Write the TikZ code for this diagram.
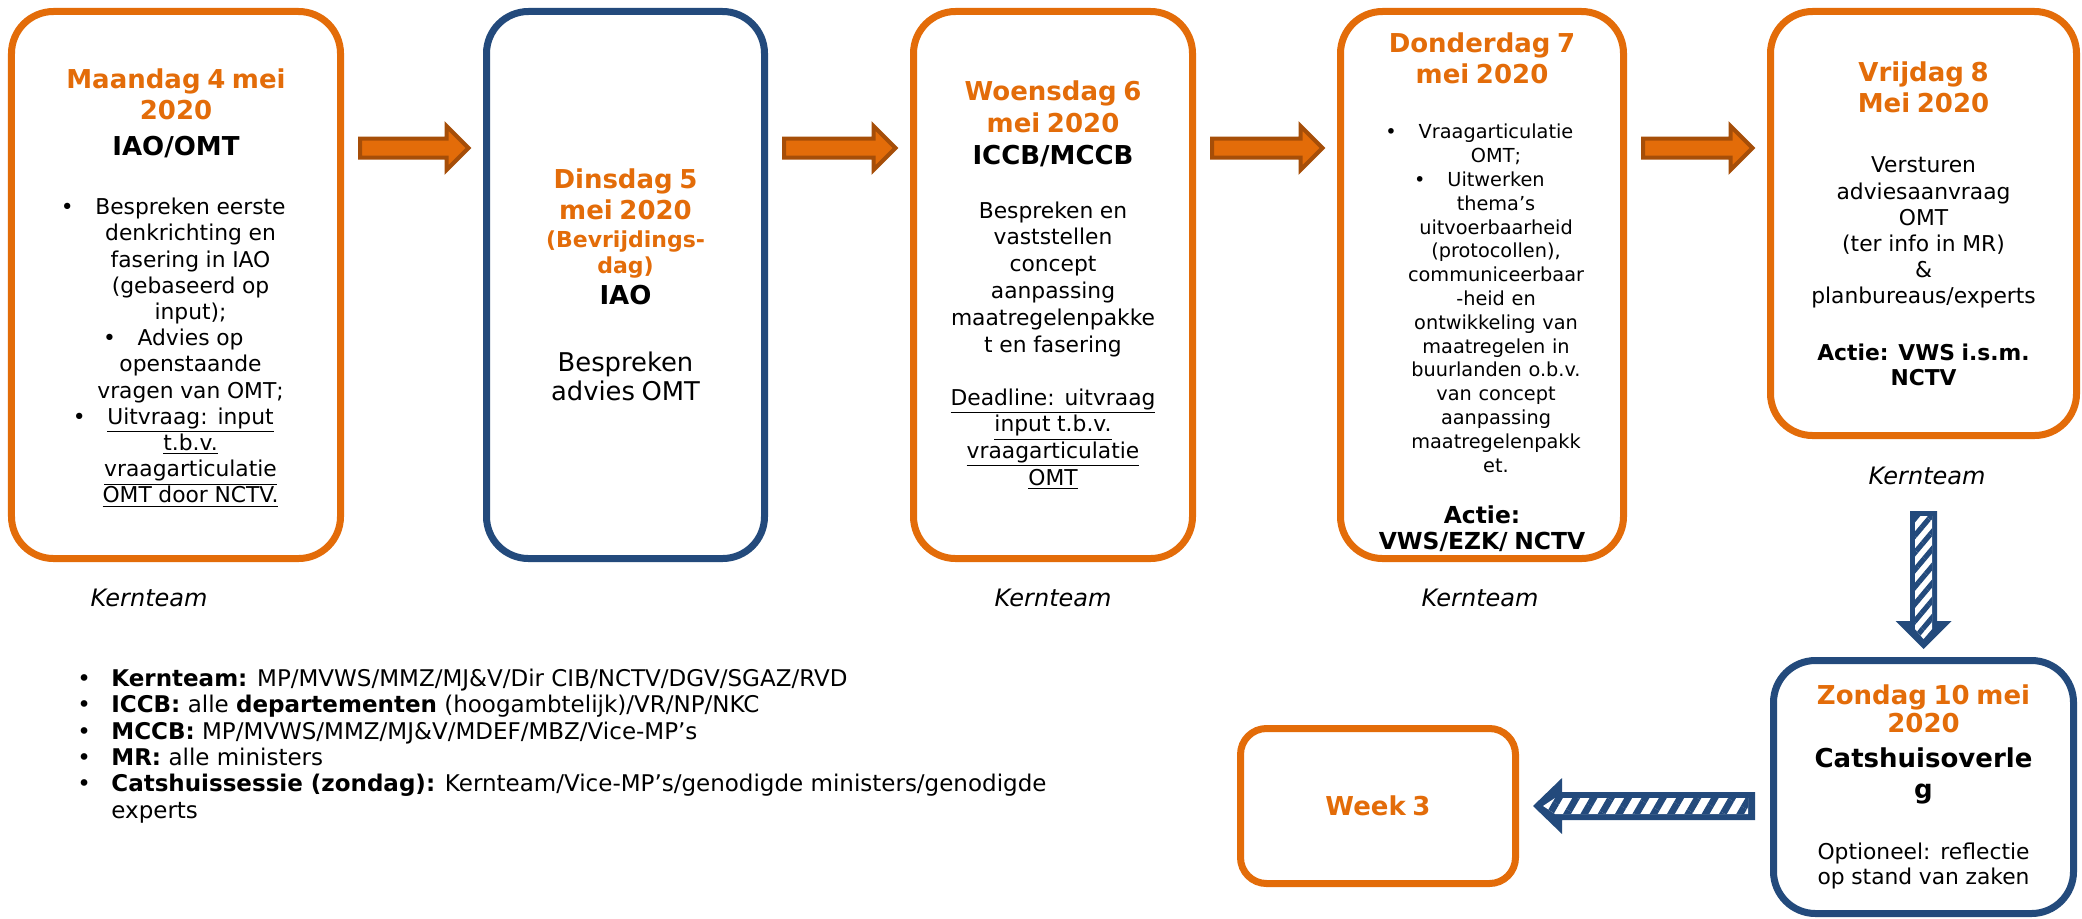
\documentclass[tikz,border=0pt]{standalone}
\usepackage{fontspec}
\setmainfont{DejaVu Sans}
\usetikzlibrary{calc,patterns.meta}
\setlength\parindent{0pt}
\setlength\parskip{0pt}
\definecolor{orng}{RGB}{227,108,9}
\definecolor{bblue}{RGB}{35,74,124}
\definecolor{brwn}{RGB}{166,78,8}
\newcommand\zTitle{\fontsize{13bp}{15.5bp}\selectfont\bfseries}
\newcommand\zBody{\fontsize{10.9bp}{13.1bp}\selectfont}
\newcommand\zSmall{\fontsize{9.65bp}{11.9bp}\selectfont}
\newcommand\zMid{\fontsize{11bp}{13bp}\selectfont\bfseries}
\newcommand\zBig{\fontsize{12.9bp}{14.5bp}\selectfont}
\newcommand\bul[1]{\leavevmode\llap{\textbullet\hspace{#1}}}
\tikzset{
  box/.style={draw, line width=3.5bp, rounded corners=21bp, fill=white, align=center, inner sep=0pt},
  obox/.style={box, draw=orng},
  bbox/.style={box, draw=bblue},
  txt/.style={align=center, inner sep=0pt},
  lbl/.style={font=\fontsize{12bp}{14bp}\selectfont\itshape, inner sep=0pt},
  leg/.style={font=\fontsize{11.5bp}{13bp}\selectfont, inner sep=0pt, anchor=base west},
  oarrow/.style={fill=orng, draw=brwn, line width=2bp, line join=miter},
}
\newcommand\orarrow[2]{%
  \filldraw[oarrow] let \p1=(#1.east), \p2=(#2.west) in
    (\x1+8bp,-69.25bp) -- (\x2-18.25bp,-69.25bp) -- (\x2-18.25bp,-63bp) --
    (\x2-7.25bp,-74bp) -- (\x2-18.25bp,-85bp) -- (\x2-18.25bp,-78.75bp) --
    (\x1+8bp,-78.75bp) -- cycle;}
\begin{document}
\begin{tikzpicture}[x=0.5bp,y=-0.5bp]
\useasboundingbox (0,0) rectangle (2082,918);
\fill[white] (0,0) rectangle (2082,918);

% ---- top row boxes
\node[obox, minimum width=164.5bp, minimum height=273.5bp] (b1) at (176,285) {};
\node[txt, text width=156bp] (t1) at (176,288) {%
{\zTitle\color{orng}Maandag 4 mei\\2020\par}
\vspace{2.5bp}
{\zTitle IAO/OMT\par}
\vspace{16.5bp}
{\zBody\advance\leftskip 14.5bp
\bul{10.8bp}Bespreken eerste\\denkrichting en\\fasering in IAO\\(gebaseerd op\\input);\\
\bul{10.8bp}Advies op\\openstaande\\vragen van OMT;\\
\bul{10.8bp}\underline{Uitvraag: input}\\\underline{t.b.v.}\\\underline{vraagarticulatie}\\\underline{OMT door NCTV.}\par}};

\node[bbox, minimum width=139bp, minimum height=273.5bp, text width=132bp] (b2) at (625.5,285) {%
{\zTitle\color{orng}Dinsdag 5\\mei 2020\par}
\vspace{1bp}
{\zMid\color{orng}(Bevrijdings-\\dag)\par}
{\zTitle IAO\par}
\vspace{19bp}
{\zBig Bespreken\\advies OMT\par}};

\node[obox, minimum width=139.5bp, minimum height=273.5bp, text width=132bp] (b3) at (1053,285) {%
{\fontsize{13bp}{16bp}\selectfont\bfseries\color{orng}Woensdag 6\\mei 2020\par}
{\fontsize{13bp}{16bp}\selectfont\bfseries ICCB/MCCB\par}
\vspace{13.5bp}
{\fontsize{10.9bp}{13.4bp}\selectfont Bespreken en\\vaststellen\\concept\\aanpassing\\maatregelenpakke\\t en fasering\par}
\vspace{13.3bp}
{\fontsize{10.9bp}{13.3bp}\selectfont\underline{Deadline: uitvraag}\\\underline{input t.b.v.}\\\underline{vraagarticulatie}\\\underline{OMT}\par}};

\node[obox, minimum width=141.5bp, minimum height=273.5bp] (b4) at (1482,285) {};
\node[txt, text width=136bp] (t4) at (1482,292) {%
{\fontsize{13bp}{15.3bp}\selectfont\bfseries\color{orng}Donderdag 7\\mei 2020\par}
\vspace{16bp}
{\zSmall\advance\leftskip 14bp
\bul{11bp}Vraagarticulatie\\OMT;\\
\bul{11bp}Uitwerken\\thema’s\\uitvoerbaarheid\\(protocollen),\\communiceerbaar\\-heid en\\ontwikkeling van\\maatregelen in\\buurlanden o.b.v.\\van concept\\aanpassing\\maatregelenpakk\\et.\par}
\vspace{12.5bp}
{\fontsize{11.7bp}{13bp}\selectfont\bfseries Actie:\\VWS/EZK/ NCTV\par}};

\node[obox, minimum width=153bp, minimum height=212bp, text width=146bp] (b5) at (1923.5,223.5) {%
{\zTitle\color{orng}Vrijdag 8\\Mei 2020\par}
\vspace{17.2bp}
{\zBody Versturen\\adviesaanvraag\\OMT\\(ter info in MR)\\\&\\planbureaus/experts\par}
\vspace{15.7bp}
{\fontsize{10.9bp}{12.5bp}\selectfont\bfseries Actie: VWS i.s.m.\\NCTV\par}};

% ---- bottom row boxes
\node[bbox, minimum width=150bp, minimum height=126.5bp, text width=144bp] (b6) at (1923.5,787) {%
{\fontsize{13bp}{14bp}\selectfont\bfseries\color{orng}Zondag 10 mei\\2020\par}
\vspace{2bp}
{\fontsize{13bp}{15.5bp}\selectfont\bfseries Catshuisoverle\\g\par}
\vspace{18bp}
{\fontsize{10.9bp}{12.5bp}\selectfont Optioneel: reflectie\\op stand van zaken\par}};

\node[obox, rounded corners=13bp, minimum width=137.5bp, minimum height=77.5bp, text width=130bp] (b7) at (1378,806) {%
{\zTitle\color{orng}Week 3\par}};

% ---- Kernteam labels
\node[lbl] (k1) at (149,598) {Kernteam};
\node[lbl] (k3) at (1053,598) {Kernteam};
\node[lbl] (k4) at (1480,598) {Kernteam};
\node[lbl] (k5) at (1927,476) {Kernteam};

% ---- orange block arrows
\orarrow{b1}{b2}
\orarrow{b2}{b3}
\orarrow{b3}{b4}
\orarrow{b4}{b5}

% ---- striped down arrow b5 -> b6
\fill[bblue] let \p1=(b5.south), \p2=(b6.north) in
  (\x1-6.75bp,\y1-36bp) -- (\x1+6.75bp,\y1-36bp) -- (\x1+6.75bp,\y2+18bp) --
  (\x1+14bp,\y2+18bp) -- (\x1,\y2+4bp) -- (\x1-14bp,\y2+18bp) --
  (\x1-6.75bp,\y2+18bp) -- cycle;
\path[preaction={fill=white}, pattern={Lines[angle=50,distance=5.5bp,line width=2.6bp]}, pattern color=bblue]
  let \p1=(b5.south), \p2=(b6.north) in
  (\x1-4.25bp,\y1-38.5bp) -- (\x1+4.25bp,\y1-38.5bp) -- (\x1+4.25bp,\y2+14bp) --
  (\x1,\y2+9bp) -- (\x1-4.25bp,\y2+14bp) -- cycle;

% ---- striped left arrow b6 -> b7
\fill[bblue] let \p1=(b6.west), \p2=(b7.east) in
  (\x1-7.5bp,\y2+7bp) -- (\x2+21.5bp,\y2+7bp) -- (\x2+21.5bp,\y2+14bp) --
  (\x2+7bp,\y2) -- (\x2+21.5bp,\y2-14bp) -- (\x2+21.5bp,\y2-7bp) --
  (\x1-7.5bp,\y2-7bp) -- cycle;
\path[preaction={fill=white}, pattern={Lines[angle=60,distance=7.5bp,line width=3.4bp]}, pattern color=bblue]
  let \p1=(b6.west), \p2=(b7.east) in
  (\x2+12bp,\y2) -- (\x2+18bp,\y2+4bp) -- (\x1-11bp,\y2+4bp) --
  (\x1-11bp,\y2-4bp) -- (\x2+18bp,\y2-4bp) -- cycle;

% ---- legend
\node[leg] (l1) at (111,686) {\bul{10.25bp}\textbf{Kernteam:} MP/MVWS/MMZ/MJ\&V/Dir CIB/NCTV/DGV/SGAZ/RVD};
\node[leg] (l2) at (111,712.5) {\bul{10.25bp}\textbf{ICCB:} alle \textbf{departementen} (hoogambtelijk)/VR/NP/NKC};
\node[leg] (l3) at (111,739) {\bul{10.25bp}\textbf{MCCB:} MP/MVWS/MMZ/MJ\&V/MDEF/MBZ/Vice-MP’s};
\node[leg] (l4) at (111,765) {\bul{10.25bp}\textbf{MR:} alle ministers};
\node[leg] (l5) at (111,791) {\bul{10.25bp}\textbf{Catshuissessie (zondag):} Kernteam/Vice-MP’s/genodigde ministers/genodigde};
\node[leg] (l6) at (111,818) {experts};
\end{tikzpicture}
\end{document}
